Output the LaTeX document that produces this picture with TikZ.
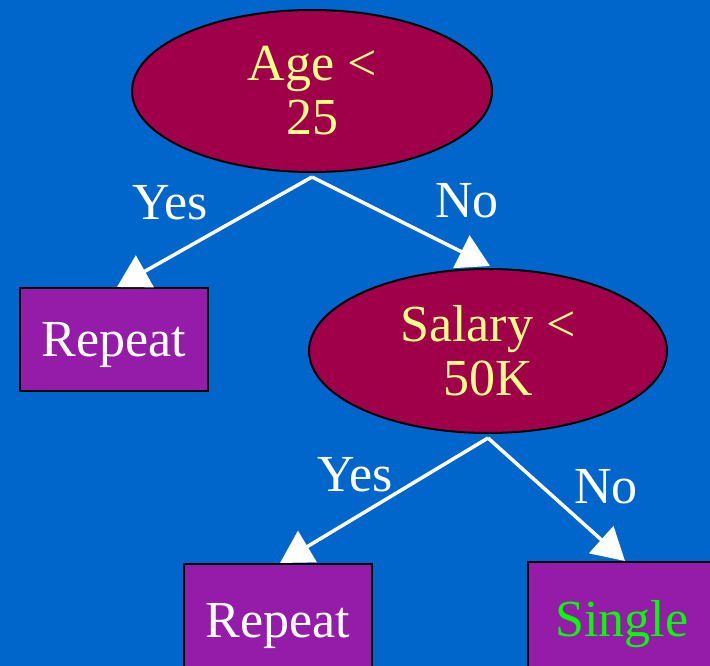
\documentclass[tikz,border=0pt]{standalone}
\usepackage{fontspec}
\setmainfont{Liberation Serif}
\usetikzlibrary{shapes.geometric,arrows.meta}
\definecolor{bg}{HTML}{0066CC}
\definecolor{ellfill}{HTML}{A0004A}
\definecolor{boxfill}{HTML}{941CA8}
\definecolor{ylw}{HTML}{FFFF88}
\definecolor{grn}{HTML}{00FF00}
\tikzset{
  big/.style={font=\fontsize{52}{54}\selectfont},
  test/.style={ellipse, draw=black, line width=2pt, fill=ellfill, inner sep=0pt,
    minimum width=360pt, minimum height=162pt, text=ylw, align=center, big},
  leaf/.style={rectangle, draw=black, line width=2pt, fill=boxfill, inner sep=0pt,
    minimum width=188pt, text=white, big, text depth=0pt},
  edge/.style={draw=white, line width=3.5pt, -{Triangle[length=32pt,width=36pt]}},
  lbl/.style={text=white, big, inner sep=0pt}
}
\begin{document}
\begin{tikzpicture}[x=1pt,y=-1pt]
\clip (0,0) rectangle (710,666);
\fill[bg] (0,0) rectangle (710,666);
\node[test] (age) at (312,91) {Age <\\25};
\node[test, minimum width=358pt, minimum height=164pt] (sal) at (488,351) {Salary <\\50K};
\node[leaf, minimum height=103pt] (r1) at (114,339.5) {Repeat};
\node[leaf, minimum height=112pt] (r2) at (278,620) {Repeat};
\node[leaf, minimum height=112pt, text=grn] (s1) at (622,618) {Single};
\draw[edge] ([yshift=-4pt]age.south) -- ([xshift=3pt]r1.north);
\draw[edge] ([yshift=-4pt]age.south) -- ([xshift=2pt,yshift=2pt]sal.north);
\draw[edge] ([yshift=-4pt]sal.south) -- ([xshift=2pt]r2.north);
\draw[edge] ([yshift=-4pt]sal.south) -- ([xshift=3pt]s1.north);
\node[lbl] (y1) at (170,203) {Yes};
\node[lbl] (n1) at (467,201) {No};
\node[lbl] (y2) at (355,475) {Yes};
\node[lbl] (n2) at (606,487) {No};
\end{tikzpicture}
\end{document}
